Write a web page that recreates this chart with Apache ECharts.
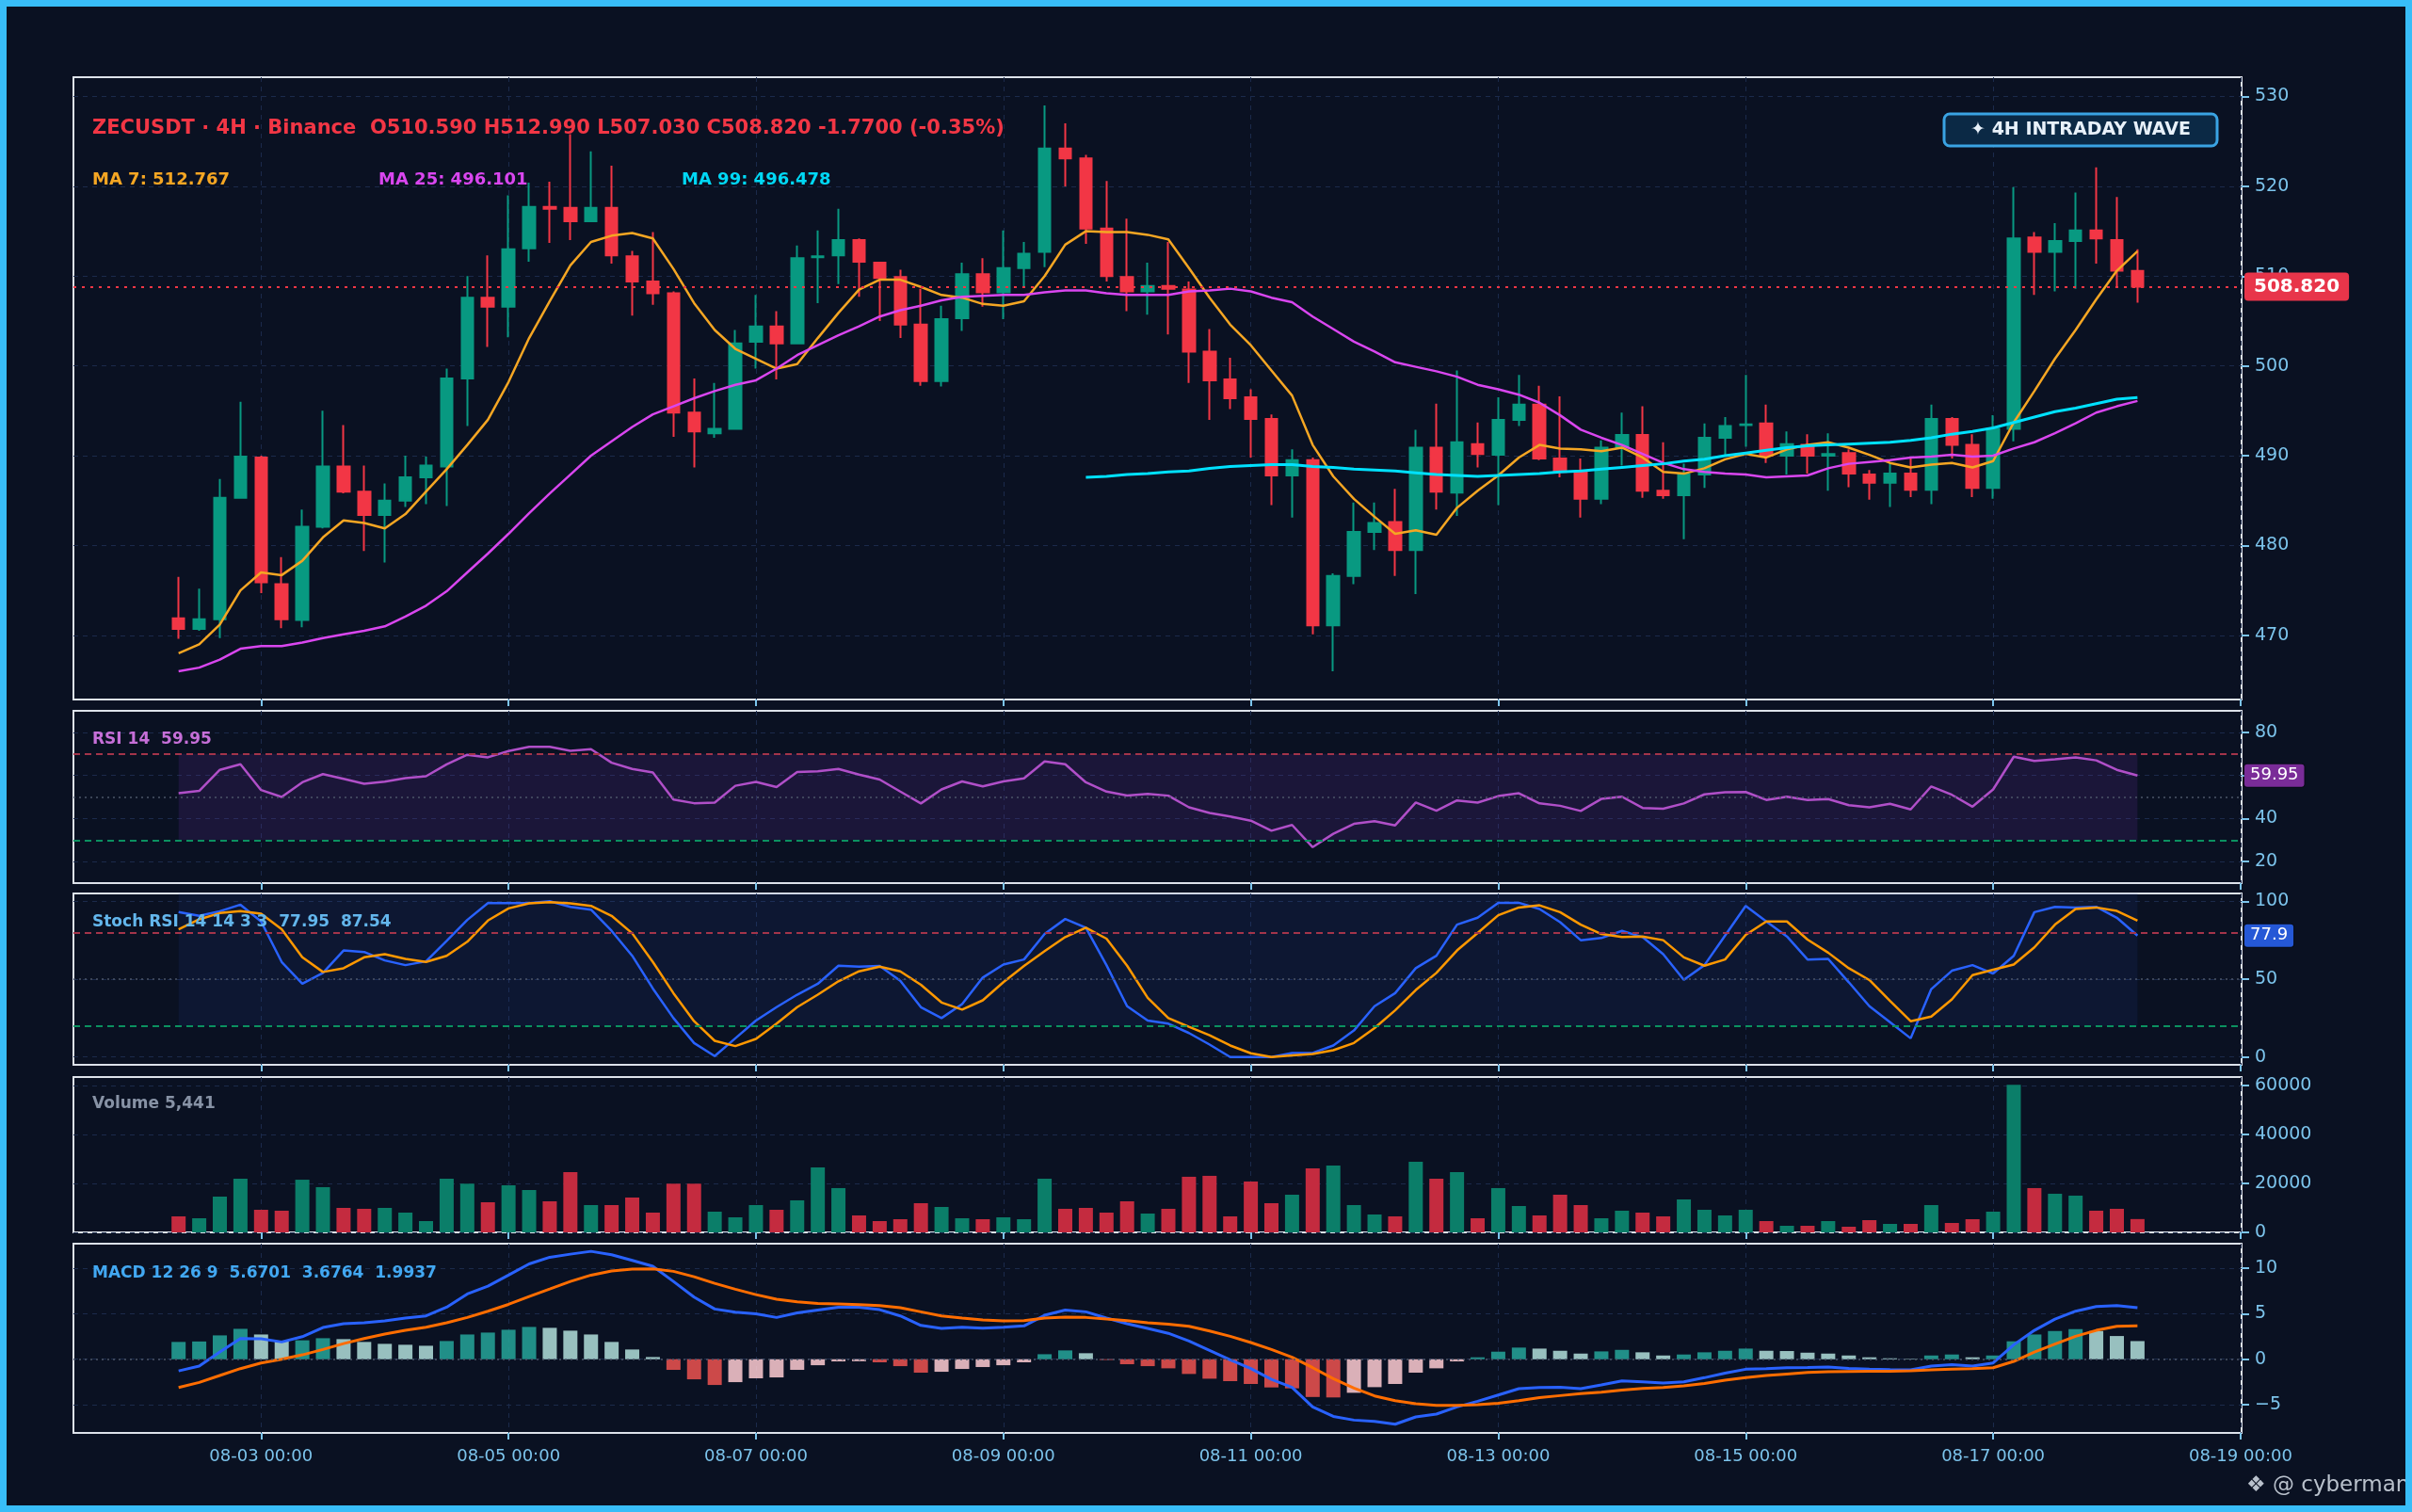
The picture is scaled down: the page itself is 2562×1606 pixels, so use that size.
<!DOCTYPE html>
<html>
<head>
<meta charset="utf-8">
<title>ZECUSDT 4H</title>
<script src="https://cdn.jsdelivr.net/npm/echarts@6/dist/echarts.min.js"></script>
<style>
  html, body { margin: 0; padding: 0; background: #0a1122; }
  #chart { width: 2562px; height: 1606px; }
</style>
</head>
<body>
<div id="chart"></div>
<script>
// 4h candles, 08-02 08:00 .. 08-18 04:00
const times = [
  '08-02 08:00', '08-02 12:00', '08-02 16:00', '08-02 20:00',
  '08-03 00:00', '08-03 04:00', '08-03 08:00', '08-03 12:00', '08-03 16:00', '08-03 20:00',
  '08-04 00:00', '08-04 04:00', '08-04 08:00', '08-04 12:00', '08-04 16:00', '08-04 20:00',
  '08-05 00:00', '08-05 04:00', '08-05 08:00', '08-05 12:00', '08-05 16:00', '08-05 20:00',
  '08-06 00:00', '08-06 04:00', '08-06 08:00', '08-06 12:00', '08-06 16:00', '08-06 20:00',
  '08-07 00:00', '08-07 04:00', '08-07 08:00', '08-07 12:00', '08-07 16:00', '08-07 20:00',
  '08-08 00:00', '08-08 04:00', '08-08 08:00', '08-08 12:00', '08-08 16:00', '08-08 20:00',
  '08-09 00:00', '08-09 04:00', '08-09 08:00', '08-09 12:00', '08-09 16:00', '08-09 20:00',
  '08-10 00:00', '08-10 04:00', '08-10 08:00', '08-10 12:00', '08-10 16:00', '08-10 20:00',
  '08-11 00:00', '08-11 04:00', '08-11 08:00', '08-11 12:00', '08-11 16:00', '08-11 20:00',
  '08-12 00:00', '08-12 04:00', '08-12 08:00', '08-12 12:00', '08-12 16:00', '08-12 20:00',
  '08-13 00:00', '08-13 04:00', '08-13 08:00', '08-13 12:00', '08-13 16:00', '08-13 20:00',
  '08-14 00:00', '08-14 04:00', '08-14 08:00', '08-14 12:00', '08-14 16:00', '08-14 20:00',
  '08-15 00:00', '08-15 04:00', '08-15 08:00', '08-15 12:00', '08-15 16:00', '08-15 20:00',
  '08-16 00:00', '08-16 04:00', '08-16 08:00', '08-16 12:00', '08-16 16:00', '08-16 20:00',
  '08-17 00:00', '08-17 04:00', '08-17 08:00', '08-17 12:00', '08-17 16:00', '08-17 20:00',
  '08-18 00:00', '08-18 04:00'
];

const opens = [
  471.9, 470.7, 471.8, 485.3, 489.8, 475.7, 471.7, 482.1, 488.8, 486.0,
  483.4, 485.0, 487.6, 488.8, 498.6, 507.6, 506.6, 513.1, 517.7, 517.6,
  516.1, 517.6, 512.2, 509.4, 508.1, 494.8, 492.5, 493.0, 502.7, 504.4,
  502.5, 512.1, 512.3, 514.0, 511.5, 509.9, 504.6, 498.3, 505.3, 510.2,
  508.2, 510.9, 512.7, 524.2, 523.1, 515.3, 509.9, 508.3, 508.9, 508.5,
  501.6, 498.5, 496.5, 494.1, 487.8, 489.5, 471.1, 476.6, 481.5, 482.6,
  479.5, 490.9, 485.9, 491.3, 490.1, 494.0, 495.7, 489.7, 488.2, 485.2,
  490.9, 492.3, 486.1, 485.6, 487.9, 492.0, 493.4, 493.6, 490.0, 491.2,
  490.0, 490.3, 487.9, 487.0, 488.0, 486.2, 494.1, 491.2, 486.4, 493.0,
  514.3, 512.7, 513.9, 515.1, 514.0, 510.59
];
const highs = [
  476.5, 475.2, 487.4, 496.0, 490.0, 478.7, 484.0, 495.0, 493.4, 488.9,
  486.9, 490.0, 489.9, 499.7, 510.0, 512.3, 519.0, 520.4, 520.5, 525.8,
  523.9, 522.3, 512.8, 514.9, 508.3, 498.6, 498.1, 504.0, 507.9, 506.1,
  513.4, 515.1, 517.5, 514.2, 511.6, 510.7, 508.6, 506.7, 511.5, 512.0,
  515.1, 513.8, 529.0, 527.0, 523.5, 520.6, 516.4, 511.5, 513.8, 509.4,
  504.1, 500.9, 497.4, 494.6, 490.7, 489.8, 476.9, 484.8, 484.8, 486.3,
  492.9, 495.8, 499.5, 493.7, 496.5, 499.0, 497.8, 496.6, 489.7, 491.7,
  494.8, 495.5, 491.5, 489.1, 493.6, 494.3, 499.0, 495.7, 492.7, 492.4,
  492.5, 490.7, 488.4, 489.2, 489.9, 495.7, 494.3, 492.4, 494.5, 519.9,
  514.9, 515.9, 519.3, 522.1, 518.8, 512.99
];
const lows = [
  469.6, 470.5, 469.7, 485.3, 474.7, 470.8, 470.9, 481.9, 485.8, 479.4,
  478.1, 484.3, 484.6, 484.4, 493.3, 502.1, 503.2, 511.6, 513.7, 514.0,
  516.0, 511.4, 505.6, 506.8, 492.1, 488.7, 492.0, 492.9, 499.7, 498.5,
  502.4, 507.0, 509.1, 507.7, 505.0, 503.1, 497.8, 497.7, 503.9, 506.6,
  505.2, 508.8, 511.0, 520.0, 513.6, 509.4, 506.1, 505.7, 503.5, 498.1,
  494.0, 495.2, 489.8, 484.5, 483.1, 470.1, 466.0, 475.7, 479.5, 476.6,
  474.6, 484.0, 483.3, 488.7, 484.5, 493.3, 489.5, 487.6, 483.1, 484.6,
  488.9, 485.3, 485.2, 480.7, 486.4, 490.0, 491.0, 489.2, 487.9, 488.0,
  486.1, 486.5, 485.1, 484.3, 485.4, 484.6, 489.7, 485.4, 485.2, 491.6,
  507.9, 508.3, 508.6, 511.4, 508.8, 507.03
];
const closes = [
  470.7, 471.8, 485.3, 489.9, 475.9, 471.8, 482.1, 488.8, 486.0, 483.4,
  485.0, 487.6, 488.9, 498.6, 507.6, 506.6, 513.0, 517.7, 517.5, 516.1,
  517.6, 512.3, 509.4, 508.1, 494.8, 492.7, 493.0, 502.5, 504.4, 502.5,
  512.0, 512.2, 514.0, 511.6, 509.8, 504.6, 498.3, 505.2, 510.2, 508.2,
  510.9, 512.5, 524.2, 523.1, 515.3, 510.0, 508.3, 508.9, 508.6, 501.6,
  498.4, 496.4, 494.1, 487.8, 489.5, 471.1, 476.6, 481.5, 482.5, 479.5,
  490.9, 486.0, 491.5, 490.2, 494.0, 495.7, 489.7, 488.2, 485.2, 490.9,
  492.3, 486.1, 485.6, 487.9, 492.0, 493.3, 493.5, 490.0, 491.3, 490.0,
  490.2, 488.0, 487.0, 488.0, 486.2, 494.1, 491.2, 486.4, 493.0, 514.2,
  512.7, 513.9, 515.1, 514.2, 510.6, 508.82
];

const ma7 = [
  468.0, 469.0, 471.2, 475.0, 477.0, 476.7, 478.3, 480.9, 482.8, 482.5,
  481.9, 483.5, 486.0, 488.5, 491.2, 494.0, 498.2, 503.1, 507.2, 511.2,
  513.8, 514.5, 514.8, 514.2, 510.8, 507.0, 504.0, 501.9, 500.8, 499.7,
  500.2, 503.1, 505.9, 508.5, 509.6, 509.6, 508.8, 507.9, 507.6, 506.9,
  506.7, 507.2, 510.0, 513.5, 515.0, 514.9, 514.9, 514.6, 514.1, 510.9,
  507.6, 504.6, 502.3, 499.5, 496.7, 491.2, 487.7, 485.2, 483.2, 481.3,
  481.7, 481.2, 484.2, 486.1, 487.8, 489.8, 491.2, 490.8, 490.7, 490.5,
  490.9, 489.8, 488.2, 488.0, 488.6, 489.6, 490.2, 489.8, 490.7, 491.2,
  491.5, 490.9, 490.1, 489.2, 488.7, 489.0, 489.2, 488.7, 489.4, 493.7,
  497.2, 500.8, 504.0, 507.4, 510.6, 512.767
];
const ma25 = [
  466.0, 466.4, 467.3, 468.5, 468.8, 468.8, 469.2, 469.7, 470.1, 470.5,
  471.0, 472.1, 473.3, 474.9, 477.0, 479.1, 481.3, 483.6, 485.8, 487.9,
  490.0, 491.6, 493.2, 494.6, 495.5, 496.4, 497.2, 497.9, 498.4, 499.7,
  501.2, 502.3, 503.4, 504.4, 505.5, 506.2, 506.7, 507.3, 507.7, 507.8,
  507.9, 507.9, 508.2, 508.4, 508.4, 508.1, 507.9, 507.9, 507.9, 508.3,
  508.4, 508.6, 508.3, 507.6, 507.1, 505.5, 504.1, 502.7, 501.6, 500.4,
  499.9, 499.4, 498.8, 497.9, 497.4, 496.8, 495.9, 494.5, 492.9, 492.0,
  491.2, 490.2, 489.2, 488.5, 488.2, 488.0, 487.9, 487.6, 487.7, 487.8,
  488.6, 489.1, 489.3, 489.5, 489.8, 489.9, 490.1, 489.9, 490.0, 490.8,
  491.5, 492.5, 493.6, 494.8, 495.5, 496.101
];
const ma99 = [
  null, null, null, null, null, null, null, null, null, null,
  null, null, null, null, null, null, null, null, null, null,
  null, null, null, null, null, null, null, null, null, null,
  null, null, null, null, null, null, null, null, null, null,
  null, null, null, null, 487.6, 487.7, 487.9, 488.0, 488.2, 488.3,
  488.6, 488.8, 488.9, 489.0, 489.0, 488.8, 488.7, 488.5, 488.4, 488.3,
  488.1, 487.9, 487.8, 487.7, 487.8, 487.9, 488.0, 488.2, 488.3, 488.5,
  488.7, 488.9, 489.1, 489.4, 489.6, 490.0, 490.3, 490.6, 490.9, 491.1,
  491.2, 491.3, 491.4, 491.5, 491.7, 492.0, 492.4, 492.7, 493.1, 493.7,
  494.3, 494.9, 495.3, 495.8, 496.3, 496.478
];

const rsi = [
  51.7, 52.8, 62.6, 65.2, 53.2, 50.0, 56.8, 60.6, 58.4, 56.1,
  57.1, 58.7, 59.6, 65.1, 69.6, 68.4, 71.3, 73.3, 73.3, 71.4,
  72.2, 65.9, 63.0, 61.4, 48.8, 47.1, 47.4, 55.2, 57.0, 54.6,
  61.6, 61.9, 63.0, 60.4, 58.1, 52.5, 47.0, 53.5, 57.2, 54.9,
  57.2, 58.6, 66.5, 65.2, 56.8, 52.5, 50.7, 51.4, 50.6, 45.2,
  42.6, 40.9, 39.0, 34.3, 37.0, 26.7, 32.9, 37.5, 38.7, 36.8,
  47.4, 43.6, 48.4, 47.4, 50.4, 51.7, 47.0, 45.9, 43.5, 49.1,
  50.1, 44.9, 44.5, 47.0, 51.2, 52.2, 52.3, 48.6, 50.1, 48.6,
  49.0, 46.2, 45.2, 46.8, 44.2, 54.9, 51.0, 45.5, 53.5, 68.7,
  66.7, 67.5, 68.4, 67.0, 62.6, 59.95
];
const stochK = [
  93.0, 90.6, 93.6, 97.8, 87.0, 61.0, 47.0, 54.0, 68.4, 67.4,
  62.0, 59.0, 61.4, 74.6, 88.0, 98.8, 98.8, 98.8, 100, 96.4,
  94.6, 81.0, 65.0, 44.0, 25.0, 9.0, 0.6, 12.0, 23.4, 32.0,
  40.0, 47.0, 58.6, 58.0, 58.4, 49.0, 32.0, 25.0, 34.0, 51.0,
  59.4, 62.6, 79.0, 88.6, 83.0, 59.0, 32.6, 23.4, 21.4, 15.4,
  8.0, 0, 0, 0, 2.6, 2.6, 7.4, 17.0, 32.6, 41.0,
  57.0, 65.0, 85.0, 89.4, 99.0, 99.0, 95.0, 86.6, 75.0, 76.4,
  81.0, 77.0, 66.0, 49.6, 59.0, 78.0, 97.0, 87.0, 77.4, 62.6,
  63.0, 48.0, 32.6, 22.4, 12.0, 43.6, 55.4, 59.0, 53.6, 65.0,
  93.0, 96.4, 96.0, 96.4, 89.4, 77.95
];
const stochD = [
  82.0, 88.4, 92.4, 93.6, 92.0, 82.0, 64.0, 54.6, 57.0, 64.0,
  66.0, 63.0, 61.0, 65.0, 74.0, 87.6, 95.4, 98.6, 99.4, 98.6,
  97.0, 90.6, 79.4, 61.0, 41.0, 23.0, 10.4, 7.0, 11.6, 21.4,
  32.0, 40.0, 48.6, 55.0, 58.0, 55.0, 46.4, 35.0, 30.4, 36.4,
  48.0, 58.4, 68.0, 77.0, 83.0, 76.0, 58.6, 38.0, 25.0, 19.4,
  14.0, 7.4, 2.4, 0, 1.0, 2.0, 4.4, 9.0, 18.6, 30.0,
  43.0, 54.0, 68.4, 79.6, 91.0, 96.0, 97.4, 93.0, 85.0, 79.0,
  77.0, 77.4, 75.0, 64.0, 58.6, 62.6, 78.4, 87.0, 87.0, 75.4,
  67.0, 57.0, 49.4, 36.0, 23.0, 26.0, 37.0, 52.6, 56.0, 59.4,
  70.4, 85.0, 95.0, 96.0, 93.8, 87.54
];

const volumes = [
  6540, 5770, 14600, 21900, 9230, 8850, 21500, 18460, 10000, 9620,
  10000, 8080, 4620, 21900, 19870, 12300, 19230, 17300, 12690, 24600,
  11150, 11150, 14230, 8080, 19870, 19870, 8460, 6150, 11150, 9230,
  13080, 26540, 18080, 6920, 4620, 5380, 11920, 10380, 5770, 5380,
  6150, 5380, 21900, 9620, 10000, 8080, 12690, 7690, 9620, 22700,
  23080, 6540, 20770, 11920, 15380, 26150, 27300, 11150, 7310, 6540,
  28850, 21900, 24600, 5770, 18080, 10770, 6920, 15380, 11150, 5770,
  8850, 8080, 6540, 13460, 9230, 6920, 9230, 4620, 2690, 2690,
  4620, 2310, 5000, 3460, 3460, 11150, 3850, 5380, 8460, 60250,
  18080, 15770, 15000, 8850, 9620, 5441
];

const macd = [
  -1.28, -0.76, 0.79, 2.28, 2.24, 1.90, 2.48, 3.48, 3.90, 4.00,
  4.21, 4.52, 4.76, 5.72, 7.17, 8.03, 9.24, 10.48, 11.21, 11.55,
  11.86, 11.48, 10.86, 10.21, 8.55, 6.83, 5.52, 5.17, 5.00, 4.59,
  5.10, 5.41, 5.72, 5.72, 5.45, 4.76, 3.72, 3.38, 3.52, 3.41,
  3.52, 3.66, 4.83, 5.41, 5.21, 4.52, 3.90, 3.38, 2.85, 2.00,
  0.97, -0.07, -1.03, -2.21, -3.10, -5.24, -6.28, -6.69, -6.83, -7.14,
  -6.34, -6.03, -5.24, -4.62, -3.93, -3.24, -3.10, -3.07, -3.24, -2.83,
  -2.38, -2.48, -2.62, -2.48, -2.03, -1.52, -1.10, -1.03, -0.93, -0.90,
  -0.86, -1.00, -1.10, -1.14, -1.17, -0.76, -0.59, -0.76, -0.41, 1.59,
  3.17, 4.41, 5.28, 5.79, 5.90, 5.6701
];
const signal = [
  -3.10, -2.55, -1.79, -1.03, -0.41, 0.00, 0.48, 1.07, 1.72, 2.28,
  2.76, 3.17, 3.52, 4.00, 4.59, 5.28, 6.03, 6.90, 7.72, 8.55,
  9.24, 9.69, 9.90, 9.93, 9.66, 9.07, 8.34, 7.69, 7.10, 6.59,
  6.31, 6.14, 6.07, 6.00, 5.90, 5.66, 5.21, 4.76, 4.52, 4.31,
  4.21, 4.24, 4.52, 4.62, 4.59, 4.41, 4.24, 4.00, 3.85, 3.62,
  3.10, 2.52, 1.83, 1.07, 0.21, -0.93, -2.14, -3.17, -4.03, -4.55,
  -4.90, -5.07, -5.07, -5.00, -4.83, -4.55, -4.21, -4.00, -3.79, -3.62,
  -3.38, -3.21, -3.10, -2.93, -2.66, -2.31, -2.03, -1.79, -1.62, -1.45,
  -1.38, -1.34, -1.31, -1.31, -1.28, -1.17, -1.10, -1.03, -0.93, -0.24,
  0.79, 1.66, 2.52, 3.17, 3.62, 3.6764
];
const hist = [
  1.90, 1.95, 2.62, 3.34, 2.72, 1.98, 2.08, 2.31, 2.21, 1.90,
  1.69, 1.59, 1.48, 2.00, 2.72, 2.93, 3.24, 3.55, 3.45, 3.14,
  2.72, 1.90, 1.07, 0.24, -1.17, -2.21, -2.83, -2.52, -2.10, -2.00,
  -1.17, -0.66, -0.24, -0.22, -0.34, -0.76, -1.48, -1.38, -1.07, -0.86,
  -0.66, -0.34, 0.55, 0.97, 0.66, -0.08, -0.55, -0.76, -1.00, -1.62,
  -2.14, -2.41, -2.72, -3.10, -3.20, -4.15, -4.20, -3.69, -3.07, -2.72,
  -1.48, -1.00, -0.24, 0.21, 0.83, 1.28, 1.17, 0.93, 0.62, 0.86,
  1.03, 0.76, 0.41, 0.52, 0.76, 0.93, 1.17, 0.93, 0.90, 0.72,
  0.62, 0.41, 0.21, 0.10, 0.05, 0.41, 0.52, 0.21, 0.41, 1.97,
  2.72, 3.10, 3.31, 3.10, 2.55, 1.9937
];

const xTickPos = [4, 16, 28, 40, 52, 64, 76, 88, 100];
const xTickLabels = ['08-03 00:00', '08-05 00:00', '08-07 00:00', '08-09 00:00', '08-11 00:00',
  '08-13 00:00', '08-15 00:00', '08-17 00:00', '08-19 00:00'];
const priceTicks = [470, 480, 490, 500, 510, 520, 530];
const rsiTicks = [20, 40, 60, 80];
const stochTicks = [0, 50, 100];
const volTicks = [0, 20000, 40000, 60000];
const macdTicks = [-5, 0, 5, 10];

const UP = '#089981', DOWN = '#f23645';
const AXIS_TXT = '#7cc4ec';
const GRID_LINE = '#1b2a4b';
const FONT = '"DejaVu Sans", sans-serif';

const chart = echarts.init(document.getElementById('chart'));

const panels = [
  { top: 82, height: 661 },
  { top: 755, height: 183 },
  { top: 949, height: 182 },
  { top: 1144, height: 165 },
  { top: 1321, height: 201 }
];

const grids = panels.map(p => ({
  left: 78, right: 181, top: p.top, height: p.height,
  show: true, borderColor: '#dde2ea', borderWidth: 2, backgroundColor: 'transparent'
}));

const xAxes = panels.map((p, k) => ({
  type: 'value', gridIndex: k, min: -5.1, max: 100.05, position: 'bottom',
  axisLine: { show: false, onZero: false },
  axisTick: { show: true, customValues: xTickPos, length: 7, lineStyle: { color: AXIS_TXT, width: 2 } },
  axisLabel: {
    show: k === 4, customValues: xTickPos, margin: 16, color: AXIS_TXT, fontSize: 18, fontFamily: FONT,
    formatter: v => xTickLabels[xTickPos.indexOf(Math.round(v))] || ''
  },
  splitLine: { show: true, lineStyle: { color: GRID_LINE, type: [5, 5], width: 1 } }
}));

function yAxis(k, min, max, ticks, fmt) {
  return {
    type: 'value', gridIndex: k, position: 'right', min, max, scale: true,
    axisLine: { show: false, onZero: false },
    axisTick: { show: true, customValues: ticks, length: 8, lineStyle: { color: AXIS_TXT, width: 2 } },
    axisLabel: { customValues: ticks, margin: 14, color: AXIS_TXT, fontSize: 19, fontFamily: FONT, formatter: fmt || (v => String(v)) },
    splitLine: { show: true, lineStyle: { color: GRID_LINE, type: [5, 5], width: 1 } }
  };
}

const yAxes = [
  yAxis(0, 462.85, 532.15, priceTicks),
  yAxis(1, 10, 90, rsiTicks),
  yAxis(2, -5, 105, stochTicks),
  yAxis(3, 0, 63400, volTicks),
  yAxis(4, -8.1, 12.7, macdTicks, v => (v < 0 ? '\u2212' + Math.abs(v) : String(v)))
];

const idx = (arr) => arr.map((v, i) => [i, v]);

function hline(y, color, width, dash) {
  return { yAxis: y, lineStyle: { color, width: width || 2, type: dash || [7, 5] }, label: { show: false } };
}
function tag(y, text, bg) {
  return {
    yAxis: y, lineStyle: { color: 'rgba(0,0,0,0)', width: 1, type: 'solid' },
    label: {
      show: true, position: 'end', distance: 3, formatter: text, color: '#ffffff',
      backgroundColor: bg, borderColor: 'rgba(0,0,0,0.35)', borderWidth: 1,
      padding: [3, 6], borderRadius: 3, fontSize: 18, fontFamily: FONT
    }
  };
}

const candleData = opens.map((o, i) => [i, o, closes[i], lows[i], highs[i]]);

const histColors = hist.map((h, i) => {
  const prev = i > 0 ? hist[i - 1] : 0;
  if (h >= 0) return h >= prev ? '#26a69a' : '#b2dfdb';
  return h <= prev ? '#ef5350' : '#ffcdd2';
});

const series = [
  {
    type: 'candlestick', name: 'ZECUSDT', xAxisIndex: 0, yAxisIndex: 0, z: 2,
    data: candleData, encode: { x: 0, y: [1, 2, 3, 4] }, barWidth: 13,
    itemStyle: { color: UP, color0: DOWN, borderColor: UP, borderColor0: DOWN, borderWidth: 2 },
    markLine: {
      silent: true, symbol: ['none', 'none'], animation: false,
      data: [{
        yAxis: closes[closes.length - 1],
        lineStyle: { color: '#f23645', width: 2, type: [3, 6] },
        label: {
          show: true, position: 'end', distance: 3, formatter: '508.820', color: '#ffffff',
          backgroundColor: '#e8354a', padding: [5, 10], borderRadius: 4,
          fontSize: 20, fontWeight: 'bold', fontFamily: FONT
        }
      }]
    }
  },
  { type: 'line', name: 'MA7', xAxisIndex: 0, yAxisIndex: 0, z: 4, data: idx(ma7), showSymbol: false,
    lineStyle: { color: '#f5a623', width: 2.5 } },
  { type: 'line', name: 'MA25', xAxisIndex: 0, yAxisIndex: 0, z: 4, data: idx(ma25), showSymbol: false,
    lineStyle: { color: '#d946ef', width: 2.5 } },
  { type: 'line', name: 'MA99', xAxisIndex: 0, yAxisIndex: 0, z: 4, data: idx(ma99), showSymbol: false,
    connectNulls: false, lineStyle: { color: '#00e1ff', width: 3 } },

  {
    type: 'line', name: 'RSI', xAxisIndex: 1, yAxisIndex: 1, z: 4, data: idx(rsi), showSymbol: false,
    lineStyle: { color: '#b04fc8', width: 2.5 },
    markArea: { silent: true, itemStyle: { color: 'rgba(120, 50, 180, 0.16)' },
      data: [[{ xAxis: 0, yAxis: 30 }, { xAxis: 95, yAxis: 70 }]] },
    markLine: { silent: true, symbol: ['none', 'none'], animation: false,
      data: [hline(70, '#a3344a'), hline(30, '#0b9160'), hline(50, '#4c5568', 1.5, [2, 4]), tag(59.95, '59.95', '#7a2c98')] }
  },

  {
    type: 'line', name: 'K', xAxisIndex: 2, yAxisIndex: 2, z: 4, data: idx(stochK), showSymbol: false,
    lineStyle: { color: '#2962ff', width: 2.5 },
    markArea: { silent: true, itemStyle: { color: 'rgba(40, 70, 170, 0.12)' },
      data: [[{ xAxis: 0, yAxis: 20 }, { xAxis: 95, yAxis: 105 }]] },
    markLine: { silent: true, symbol: ['none', 'none'], animation: false,
      data: [hline(80, '#a3344a'), hline(20, '#0b9160'), hline(50, '#4c5568', 1.5, [2, 4]), tag(77.95, '77.9', '#2558d6')] }
  },
  { type: 'line', name: 'D', xAxisIndex: 2, yAxisIndex: 2, z: 4, data: idx(stochD), showSymbol: false,
    lineStyle: { color: '#ff9800', width: 2.5 } },

  {
    type: 'bar', name: 'Volume', xAxisIndex: 3, yAxisIndex: 3, barWidth: 15,
    data: volumes.map((v, i) => ({
      value: [i, v],
      itemStyle: { color: closes[i] >= opens[i] ? '#0b7e69' : '#c42b3f' }
    }))
  },

  {
    type: 'bar', name: 'Hist', xAxisIndex: 4, yAxisIndex: 4, barWidth: 15, z: 2,
    data: hist.map((h, i) => ({ value: [i, h], itemStyle: { color: histColors[i], opacity: 0.85 } })),
    markLine: { silent: true, symbol: ['none', 'none'], animation: false,
      data: [hline(0, '#4c5568', 1.5, [2, 4])] }
  },
  { type: 'line', name: 'MACD', xAxisIndex: 4, yAxisIndex: 4, z: 4, data: idx(macd), showSymbol: false,
    lineStyle: { color: '#2962ff', width: 3 } },
  { type: 'line', name: 'Signal', xAxisIndex: 4, yAxisIndex: 4, z: 4, data: idx(signal), showSymbol: false,
    lineStyle: { color: '#ff6d00', width: 3 } }
];

function label(x, y, text, color, size, weight) {
  return {
    type: 'text', x, y, z: 100,
    style: { text, fill: color, font: (weight || 'bold') + ' ' + size + 'px ' + FONT, verticalAlign: 'middle' }
  };
}

const graphic = [
  label(98, 137, 'ZECUSDT \u00b7 4H \u00b7 Binance  O510.590 H512.990 L507.030 C508.820 -1.7700 (-0.35%)', '#f23645', 21),
  label(98, 191, 'MA 7: 512.767', '#f5a623', 18),
  label(402, 191, 'MA 25: 496.101', '#d946ef', 18),
  label(724, 191, 'MA 99: 496.478', '#00d8f5', 18),
  label(98, 786, 'RSI 14  59.95', '#c66fd8', 17),
  label(98, 980, 'Stoch RSI 14 14 3 3  77.95  87.54', '#63b6ec', 17),
  label(98, 1173, 'Volume 5,441', '#8792a5', 17),
  label(98, 1353, 'MACD 12 26 9  5.6701  3.6764  1.9937', '#42a8f2', 17),
  {
    type: 'rect', z: 100,
    shape: { x: 2065, y: 121, width: 290, height: 34, r: 6 },
    style: { fill: '#0b2945', stroke: '#3aa3e3', lineWidth: 3 }
  },
  {
    type: 'text', x: 2210, y: 138, z: 101,
    style: { text: '\u2726 4H INTRADAY WAVE', fill: '#e8f1fa', font: 'bold 19px ' + FONT, align: 'center', verticalAlign: 'middle' }
  },
  label(2386, 1578, '\u2756 @ cyberman', '#b9c1cc', 23, 'normal'),
  {
    type: 'rect', z: 120, silent: true,
    shape: { x: 3.5, y: 3.5, width: 2555, height: 1599 },
    style: { fill: 'none', stroke: '#38bdf8', lineWidth: 7 }
  }
];

chart.setOption({
  backgroundColor: '#0a1122',
  animation: false,
  grid: grids,
  xAxis: xAxes,
  yAxis: yAxes,
  series: series,
  graphic: graphic
});
</script>
</body>
</html>
